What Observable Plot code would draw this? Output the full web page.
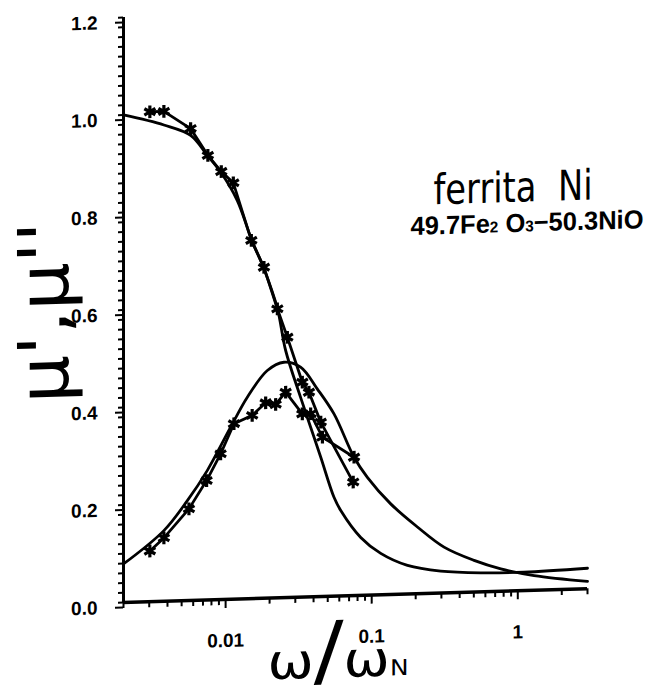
<!DOCTYPE html>
<html><head><meta charset="utf-8">
<script src="https://cdn.jsdelivr.net/npm/d3@7"></script>
<script src="https://cdn.jsdelivr.net/npm/@observablehq/plot@0.6"></script>
<style>body{margin:0;background:#fff} #chart svg{overflow:visible}</style>
</head><body><div id="chart"></div>
<script>
// measured mu' (stars)
const muRealMeasX = [0.00303,0.00378,0.00576,0.00756,0.00934,0.01129,0.0150,0.0183,0.0226,0.02646,0.0335,0.0372,0.0448,0.0747];
const muRealMeasY = [1.005,1.005,0.968,0.912,0.878,0.854,0.735,0.679,0.593,0.534,0.441,0.420,0.358,0.233];
// measured mu'' (stars)
const muImagMeasX = [0.00303,0.00378,0.00561,0.00741,0.00924,0.0114,0.0152,0.0188,0.0220,0.02576,0.0335,0.0382,0.0460,0.0757];
const muImagMeasY = [0.104,0.130,0.188,0.245,0.299,0.360,0.376,0.401,0.397,0.4215,0.376,0.3756,0.327,0.284];
// calculated mu' (smooth)
const muRealCalcX = [0.002,0.00378,0.00576,0.0075,0.0093,0.0120,0.0150,0.0183,0.0226,0.02576,0.0326,0.0382,0.0448,0.0552,0.0614,0.0841,0.1153,0.1758,0.297,0.558,1.10,3.0];
const muRealCalcY = [1.0,0.977,0.954,0.912,0.876,0.818,0.738,0.676,0.594,0.507,0.410,0.348,0.286,0.203,0.1755,0.119,0.085,0.0587,0.045,0.039,0.0378,0.042];
// calculated mu'' (smooth)
const muImagCalcX = [0.002,0.00378,0.00547,0.0075,0.01082,0.01408,0.0193,0.02507,0.0326,0.0425,0.0552,0.0757,0.0934,0.1349,0.2055,0.3128,0.502,0.765,1.294,3.0];
const muImagCalcY = [0.079,0.145,0.205,0.266,0.353,0.4135,0.467,0.483,0.472,0.426,0.374,0.284,0.242,0.186,0.137,0.094,0.065,0.046,0.030,0.015];

const xDomain = [0.002, 3];
const yDomain = [0, 1.2];
const xMajorTicks = [0.01, 0.1, 1];
const xTickLabels = ["0.01", "0.1", "1"];
const xMinorTicks = [0.002,0.003,0.004,0.005,0.006,0.007,0.008,0.009,0.02,0.03,0.04,0.05,0.06,0.07,0.08,0.09,0.2,0.3,0.4,0.5,0.6,0.7,0.8,0.9,2,3];
const yMajorTicks = [0, 0.2, 0.4, 0.6, 0.8, 1.0, 1.2];
const yTickLabels = ["0.0", "0.2", "0.4", "0.6", "0.8", "1.0", "1.2"];
const yMinorTicks = d3.range(0, 61).map(i => i / 50);

const title1 = "ferrita  Ni";
const formulaParts = [["49.7Fe", 1], ["2", 0.6], [" O", 1], ["3", 0.6], ["\u221250.3NiO", 1]];
const yLabel = "\u03bc',\u03bc''";
const xLabelParts = [["\u03c9", 1], ["/", 1.6], ["\u03c9", 1], ["N", 0.45]];

const toRows = (xs, ys) => xs.map((x, i) => ({x, y: ys[i]}));
const realMeas = toRows(muRealMeasX, muRealMeasY);
const imagMeas = toRows(muImagMeasX, muImagMeasY);
const realCalc = toRows(muRealCalcX, muRealCalcY);
const imagCalc = toRows(muImagCalcX, muImagCalcY);

const tickFont = "Liberation Sans, Arial, sans-serif";

const chart = Plot.plot({
  width: 646, height: 698,
  marginLeft: 123, marginRight: 59, marginTop: 17, marginBottom: 96,
  x: {type: "log", domain: xDomain},
  y: {domain: yDomain},
  style: {fontFamily: tickFont, background: "white", color: "black", overflow: "visible"},
  marks: [
    Plot.axisY(yMinorTicks, {tickSize: 5, tickFormat: () => "", label: null, strokeWidth: 2}),
    Plot.axisY(yMajorTicks, {tickSize: 8, tickPadding: 18, tickFormat: d => yTickLabels[yMajorTicks.indexOf(d)], label: null, strokeWidth: 2, fontSize: 19, fontWeight: "bold", dy: 5}),
    Plot.axisX(xMinorTicks, {tickSize: 6, tickFormat: () => "", label: null, strokeWidth: 2}),
    Plot.axisX(xMajorTicks, {tickSize: 9, tickPadding: 25, tickFormat: d => xTickLabels[xMajorTicks.indexOf(d)], label: null, strokeWidth: 2, fontSize: 19, fontWeight: "bold"}),
    Plot.ruleX([xDomain[0]], {strokeWidth: 3}),
    Plot.ruleY([0], {strokeWidth: 3.5}),
    Plot.line(realCalc, {x: "x", y: "y", curve: "catmull-rom", strokeWidth: 2.8}),
    Plot.line(imagCalc, {x: "x", y: "y", curve: "catmull-rom", strokeWidth: 2.8}),
    Plot.line(realMeas, {x: "x", y: "y", strokeWidth: 2.8}),
    Plot.line(imagMeas, {x: "x", y: "y", strokeWidth: 2.8}),
    Plot.dot(realMeas, {x: "x", y: "y", symbol: "asterisk", r: 6, stroke: "black", strokeWidth: 3.2}),
    Plot.dot(imagMeas, {x: "x", y: "y", symbol: "asterisk", r: 6, stroke: "black", strokeWidth: 3.2}),
    Plot.text([title1], {text: d => d, frameAnchor: "top-left", dx: 310, dy: 196, lineAnchor: "bottom", textAnchor: "start", fontSize: 42, fontFamily: "DejaVu Sans"}),
    Plot.text(["@formula"], {text: d => d, frameAnchor: "top-left", dx: 287, dy: 226, lineAnchor: "bottom", textAnchor: "start", fontSize: 26, fontWeight: "bold", fontFamily: tickFont}),
    Plot.text([yLabel], {text: d => d, frameAnchor: "left", dx: -78, dy: 0, rotate: -90, textAnchor: "middle", lineAnchor: "middle", fontSize: 70, fontFamily: "DejaVu Sans"}),
    Plot.text(["@xlabel"], {text: d => d, frameAnchor: "bottom", dx: -88, dy: 81, lineAnchor: "bottom", textAnchor: "start", fontSize: 49, fontFamily: "DejaVu Sans"})
  ]
});

const svg = d3.select(chart);
const findText = s => svg.selectAll("text").filter(function() { return this.textContent === s; });
function fillParts(t, parts) {
  t.text(null);
  for (const [s, scale] of parts) {
    const ts = t.append("tspan").text(s);
    if (scale !== 1) ts.attr("font-size", `${scale}em`);
  }
  return t;
}
fillParts(findText("@formula"), formulaParts).attr("textLength", 233).attr("lengthAdjust", "spacingAndGlyphs");
fillParts(findText("@xlabel"), xLabelParts).attr("textLength", 141).attr("lengthAdjust", "spacingAndGlyphs");
findText(title1).attr("textLength", 159).attr("lengthAdjust", "spacingAndGlyphs");
findText(yLabel).attr("textLength", 182).attr("lengthAdjust", "spacingAndGlyphs");

chart.style.transformOrigin = "123px 602px";
chart.style.transform = "skewY(-1.7deg)";
document.getElementById("chart").append(chart);
</script>
</body></html>
